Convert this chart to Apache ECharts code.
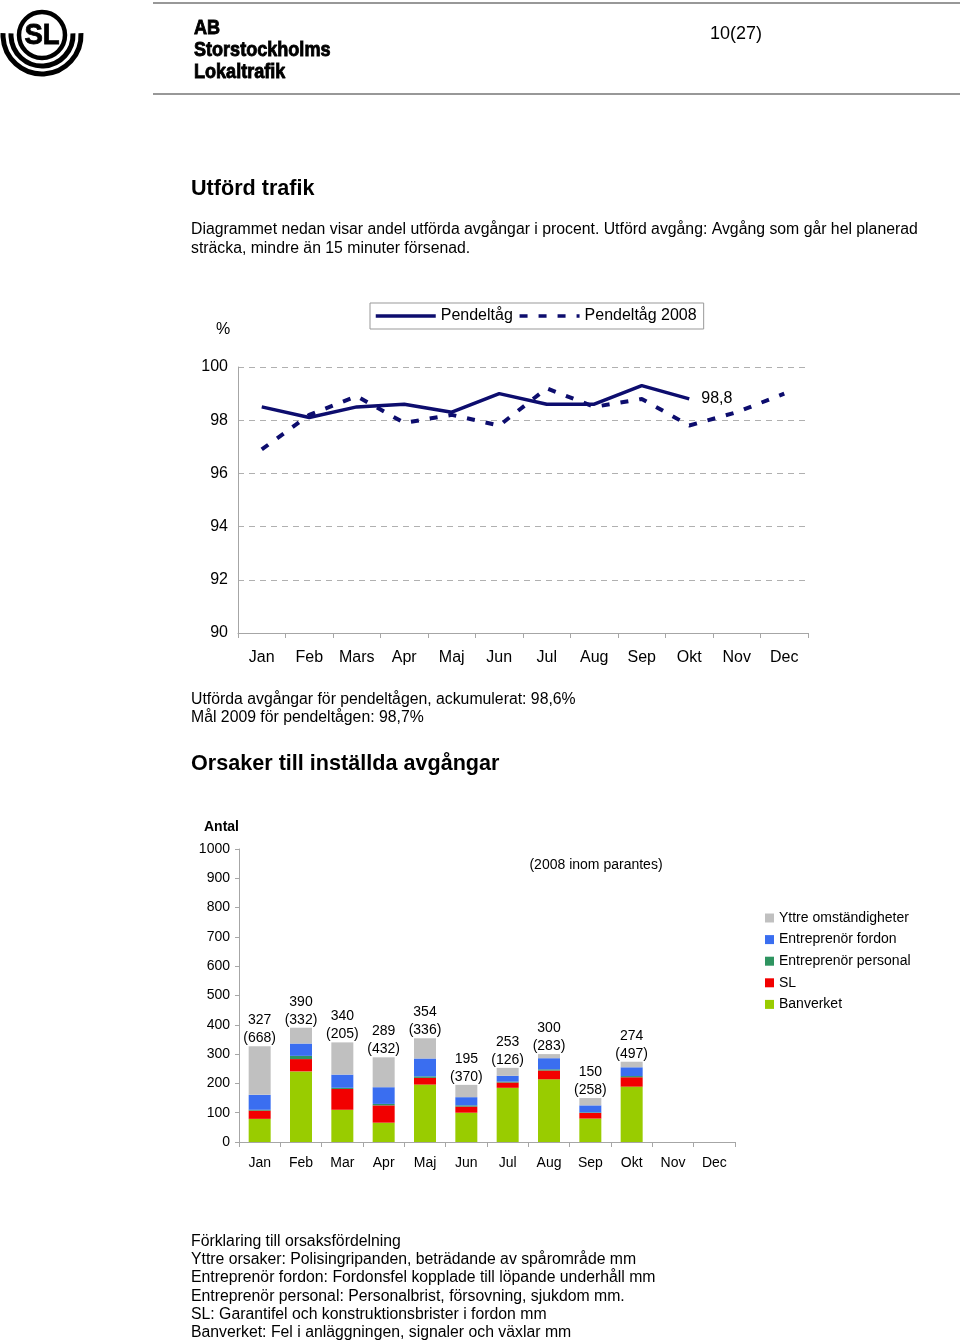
<!DOCTYPE html>
<html><head><meta charset="utf-8">
<script src="https://cdn.jsdelivr.net/npm/echarts@6/dist/echarts.min.js"></script>
<style>html,body{margin:0;padding:0;background:#fff}#c{width:960px;height:1343px}</style>
</head><body><div id="c"></div>
<script>
// ---- Line chart data (Utförd trafik, %) ----
const lineMonths = ['Jan','Feb','Mars','Apr','Maj','Jun','Jul','Aug','Sep','Okt','Nov','Dec'];
const pendeltag = [98.5, 98.1, 98.5, 98.6, 98.3, 99.0, 98.6, 98.6, 99.3, 98.8, null, null];
const pendeltag2008 = [96.9, 98.2, 98.9, 97.9, 98.2, 97.8, 99.2, 98.5, 98.8, 97.8, 98.3, 99.0];
const percentMin = 90, percentMax = 100, percentStep = 2;

// ---- Bar chart data (Orsaker till inställda avgångar) ----
const barMonths = ['Jan','Feb','Mar','Apr','Maj','Jun','Jul','Aug','Sep','Okt','Nov','Dec'];
const banverket = [79, 241, 110, 66, 196, 100, 185, 214, 80, 189, null, null];
const slFel     = [28, 42, 71, 59, 23, 21, 18, 30, 19, 32, null, null];
const personal  = [3, 11, 4, 5, 5, 4, 3, 4, 2, 4, null, null];
const fordon    = [51, 42, 45, 57, 61, 28, 20, 38, 24, 30, null, null];
const yttre     = [166, 54, 110, 102, 69, 42, 27, 14, 25, 19, null, null];
const totals    = [327, 390, 340, 289, 354, 195, 253, 300, 150, 274, null, null];
const totals2008 = [668, 332, 205, 432, 336, 370, 126, 283, 258, 497, null, null];
const antalMin = 0, antalMax = 1000, antalStep = 100;

const F = "'Liberation Sans', Arial, sans-serif";
const NAVY = '#0d0d6e';
const lastIdx = 9;

function txt(text, x, y, size, opts) {
  opts = opts || {};
  const style = {
    text: text, x: 0, y: 0,
    font: (opts.bold ? 'bold ' : '') + size + 'px ' + (opts.family || F),
    fill: opts.fill || '#000',
    textAlign: opts.align || 'left', align: opts.align || 'left',
    textVerticalAlign: 'middle', verticalAlign: 'middle'
  };
  if (opts.stroke) { style.stroke = '#000'; style.lineWidth = opts.stroke; }
  return { type: 'text', z: 10, silent: true, x: x, y: y, scaleX: opts.scaleX || 1, style: style };
}

const chart = echarts.init(document.getElementById('c'), null, {renderer: 'canvas'});

const B = 15.8;
const graphics = [
  // header rules
  {type:'line', shape:{x1:153,y1:3,x2:960,y2:3}, style:{stroke:'#333',lineWidth:1.2}},
  {type:'line', shape:{x1:153,y1:94,x2:960,y2:94}, style:{stroke:'#333',lineWidth:1.2}},
  // logo
  {type:'circle', shape:{cx:42,cy:35,r:23}, style:{fill:'none',stroke:'#000',lineWidth:4.5}},
  {type:'arc', shape:{cx:42,cy:35,r:31,startAngle:-0.05,endAngle:Math.PI+0.05,clockwise:true}, style:{fill:'none',stroke:'#000',lineWidth:5}},
  {type:'arc', shape:{cx:42,cy:35,r:39,startAngle:-0.05,endAngle:Math.PI+0.05,clockwise:true}, style:{fill:'none',stroke:'#000',lineWidth:5}},
  txt('SL', 42, 36, 29, {bold:true, align:'center', scaleX:0.95, stroke:0.8}),
  txt('AB', 194, 28, 21, {bold:true, scaleX:0.86, stroke:0.9}),
  txt('Storstockholms', 194, 50, 21, {bold:true, scaleX:0.86, stroke:0.9}),
  txt('Lokaltrafik', 194, 72, 21, {bold:true, scaleX:0.86, stroke:0.9}),
  txt('10(27)', 710, 34, 18),
  txt('Utförd trafik', 191, 189, 21.6, {bold:true}),
  txt('Diagrammet nedan visar andel utförda avgångar i procent. Utförd avgång: Avgång som går hel planerad', 191, 230, B),
  txt('sträcka, mindre än 15 minuter försenad.', 191, 249, B),
  txt('%', 216, 330, 16),
  txt('Utförda avgångar för pendeltågen, ackumulerat: 98,6%', 191, 700, B),
  txt('Mål 2009 för pendeltågen: 98,7%', 191, 718, B),
  txt('Orsaker till inställda avgångar', 191, 764, 21.6, {bold:true}),
  txt('Antal', 204, 827, 14, {bold:true}),
  txt('(2008 inom parantes)', 596, 865, 14, {align:'center'}),
  txt('Förklaring till orsaksfördelning', 191, 1242, B),
  txt('Yttre orsaker: Polisingripanden, beträdande av spårområde mm', 191, 1260, B),
  txt('Entreprenör fordon: Fordonsfel kopplade till löpande underhåll mm', 191, 1278, B),
  txt('Entreprenör personal: Personalbrist, försovning, sjukdom mm.', 191, 1297, B),
  txt('SL: Garantifel och konstruktionsbrister i fordon mm', 191, 1315, B),
  txt('Banverket: Fel i anläggningen, signaler och växlar mm', 191, 1333, B)
];

const axisGrey = '#a6a6a6';
const barColors = {yttre:'#c0c0c0', fordon:'#3a6ef0', personal:'#2e9460', sl:'#f20000', banverket:'#99cc00'};

const option = {
  animation: false,
  backgroundColor: '#fff',
  textStyle: {fontFamily: F},
  graphic: graphics,
  legend: [
    {
      left: 370, top: 303, orient: 'horizontal',
      data: ['Pendeltåg', 'Pendeltåg 2008'],
      itemWidth: 60, itemHeight: 14, itemGap: 5,
      itemStyle: {opacity: 0},
      lineStyle: {width: 3.5},
      borderColor: '#999', borderWidth: 1, padding: [5, 7, 5, 4],
      textStyle: {fontSize: 16, color: '#000', fontFamily: F},
      selectedMode: false
    },
    {
      left: 760, top: 905, orient: 'vertical',
      data: ['Yttre omständigheter','Entreprenör fordon','Entreprenör personal','SL','Banverket'],
      icon: 'rect', itemWidth: 9, itemHeight: 9, itemGap: 5.6,
      textStyle: {fontSize: 14, color: '#000', lineHeight: 16, fontFamily: F},
      selectedMode: false
    }
  ],
  grid: [
    {left: 238, top: 367, width: 570, height: 266},
    {left: 239, top: 849, width: 496, height: 293}
  ],
  xAxis: [
    {
      type: 'category', gridIndex: 0, data: lineMonths, boundaryGap: true,
      axisLine: {lineStyle: {color: axisGrey}},
      axisTick: {show: true, alignWithLabel: false, length: 5, lineStyle: {color: axisGrey}},
      axisLabel: {fontSize: 16, color: '#000', margin: 17, interval: 0}
    },
    {
      type: 'category', gridIndex: 1, data: barMonths, boundaryGap: true,
      axisLine: {lineStyle: {color: axisGrey}},
      axisTick: {show: true, length: 5, lineStyle: {color: axisGrey}},
      axisLabel: {fontSize: 14, color: '#000', margin: 14, interval: 0}
    }
  ],
  yAxis: [
    {
      type: 'value', gridIndex: 0, min: percentMin, max: percentMax, interval: percentStep,
      axisLine: {show: true, lineStyle: {color: axisGrey}},
      axisTick: {show: false},
      splitLine: {show: true, lineStyle: {color: '#b0b0b0', type: [6, 5]}},
      axisLabel: {fontSize: 16, color: '#000', margin: 10}
    },
    {
      type: 'value', gridIndex: 1, min: antalMin, max: antalMax, interval: antalStep,
      axisLine: {show: true, lineStyle: {color: axisGrey}},
      axisTick: {show: true, length: 4, lineStyle: {color: axisGrey}},
      splitLine: {show: false},
      axisLabel: {fontSize: 14, color: '#000', margin: 9, formatter: v => String(v)}
    }
  ],
  series: [
    {
      name: 'Pendeltåg', type: 'line', xAxisIndex: 0, yAxisIndex: 0,
      data: pendeltag.map((v, i) => i === lastIdx
        ? {value: v, label: {show: true, position: 'right', distance: 12, fontSize: 16, color: '#000',
            formatter: p => String(p.value).replace('.', ',')}}
        : v),
      symbol: 'circle', symbolSize: 0.1, showSymbol: true,
      lineStyle: {color: NAVY, width: 3.5}, itemStyle: {color: NAVY},
      connectNulls: false, z: 3
    },
    {
      name: 'Pendeltåg 2008', type: 'line', xAxisIndex: 0, yAxisIndex: 0,
      data: pendeltag2008,
      symbol: 'none', lineStyle: {color: NAVY, width: 4, type: [8, 11]}, itemStyle: {color: NAVY},
      z: 2
    },
    {name:'Banverket', type:'bar', stack:'a', xAxisIndex:1, yAxisIndex:1, data: banverket, barWidth: 22, itemStyle:{color: barColors.banverket}},
    {name:'SL', type:'bar', stack:'a', xAxisIndex:1, yAxisIndex:1, data: slFel, barWidth: 22, itemStyle:{color: barColors.sl}},
    {name:'Entreprenör personal', type:'bar', stack:'a', xAxisIndex:1, yAxisIndex:1, data: personal, barWidth: 22, itemStyle:{color: barColors.personal}},
    {name:'Entreprenör fordon', type:'bar', stack:'a', xAxisIndex:1, yAxisIndex:1, data: fordon, barWidth: 22, itemStyle:{color: barColors.fordon}},
    {name:'Yttre omständigheter', type:'bar', stack:'a', xAxisIndex:1, yAxisIndex:1, data: yttre, barWidth: 22, itemStyle:{color: barColors.yttre},
      label: {show: true, position: 'top', distance: -1, fontSize: 14, lineHeight: 18, color: '#000', align: 'center',
        formatter: p => totals[p.dataIndex] + '\n(' + totals2008[p.dataIndex] + ')'}}
  ]
};
chart.setOption(option);
</script></body></html>
